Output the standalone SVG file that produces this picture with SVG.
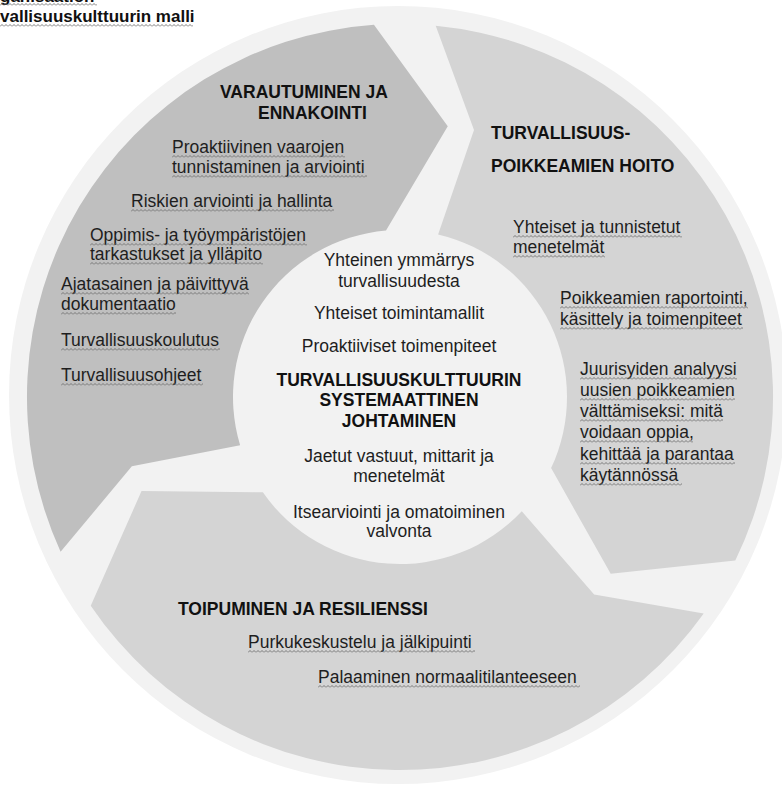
<svg xmlns="http://www.w3.org/2000/svg" width="782" height="786" viewBox="0 0 782 786">
<style>
.t{font-family:"Liberation Sans",Arial,sans-serif;font-size:17.5px;fill:#1e1e1e}
.h{font-family:"Liberation Sans",Arial,sans-serif;font-size:17.5px;font-weight:bold;fill:#111}
.m{text-anchor:middle}
.ttl{font-family:"Liberation Sans",Arial,sans-serif;font-size:17px;font-weight:bold;fill:#111}
.sq{fill:url(#sq)}
</style>
<defs>
<pattern id="sq" width="4" height="3" patternUnits="userSpaceOnUse"><path d="M0,2.5 L2,0.5 L4,2.5" fill="none" stroke="#6f6f6f" stroke-width="0.9"/></pattern>
<path id="seg" d="M35.7,-371.3 A373,373 0 0 1 335.3,163.5 L210.7,176.8 L151.1,71.1 A167,167 0 0 0 38.1,-162.6 L74,-266.9 Z"/>
</defs>
<rect width="782" height="786" fill="#fff"/>
<g id="title">
<text class="ttl" x="0" y="2">ganisaation</text>
<rect class="sq" transform="translate(0,3)" width="97" height="3"/>
<text class="ttl" x="0" y="22">vallisuuskulttuurin malli</text>
<rect class="sq" transform="translate(0,24)" width="193" height="3"/>
</g>
<g id="ring">
<circle cx="398" cy="395" r="389" fill="#f2f2f2"/>
</g>
<g id="connectors"/>
<g id="node-varautuminen">
<use href="#seg" transform="translate(400,397) rotate(240)" fill="#bfbfbf"/>
<text class="h" x="220" y="98">VARAUTUMINEN JA</text>
<text class="h" x="258" y="119">ENNAKOINTI</text>
<text class="t" x="172" y="153">Proaktiivinen vaarojen</text>
<text class="t" x="172" y="173">tunnistaminen ja arviointi</text>
<text class="t" x="131" y="207">Riskien arviointi ja hallinta</text>
<text class="t" x="90" y="241">Oppimis- ja työympäristöjen</text>
<text class="t" x="90" y="260">tarkastukset ja ylläpito</text>
<text class="t" x="61" y="290">Ajatasainen ja päivittyvä</text>
<text class="t" x="61" y="310">dokumentaatio</text>
<text class="t" x="61" y="346">Turvallisuuskoulutus</text>
<text class="t" x="61" y="381">Turvallisuusohjeet</text>
<rect class="sq" transform="translate(172,155)" width="173" height="3"/>
<rect class="sq" transform="translate(172,175)" width="195" height="3"/>
<rect class="sq" transform="translate(131,209)" width="203" height="3"/>
<rect class="sq" transform="translate(90,243)" width="217" height="3"/>
<rect class="sq" transform="translate(90,262)" width="173" height="3"/>
<rect class="sq" transform="translate(61,292)" width="188" height="3"/>
<rect class="sq" transform="translate(61,312)" width="115" height="3"/>
<rect class="sq" transform="translate(61,348)" width="159" height="3"/>
<rect class="sq" transform="translate(61,383)" width="142" height="3"/>
</g>
<g id="node-poikkeamat">
<use href="#seg" transform="translate(400,397)" fill="#d4d4d4"/>
<text class="h" x="491" y="139">TURVALLISUUS-</text>
<text class="h" x="491" y="172">POIKKEAMIEN HOITO</text>
<text class="t" x="513" y="233">Yhteiset ja tunnistetut</text>
<text class="t" x="513" y="253">menetelmät</text>
<text class="t" x="560" y="304">Poikkeamien raportointi,</text>
<text class="t" x="560" y="325">käsittely ja toimenpiteet</text>
<text class="t" x="580" y="375">Juurisyiden analyysi</text>
<text class="t" x="580" y="396">uusien poikkeamien</text>
<text class="t" x="580" y="417">välttämiseksi: mitä</text>
<text class="t" x="580" y="438">voidaan oppia,</text>
<text class="t" x="580" y="460">kehittää ja parantaa</text>
<text class="t" x="580" y="481">käytännössä</text>
<rect class="sq" transform="translate(513,235)" width="169" height="3"/>
<rect class="sq" transform="translate(513,255)" width="92" height="3"/>
<rect class="sq" transform="translate(560,306)" width="188" height="3"/>
<rect class="sq" transform="translate(560,327)" width="183" height="3"/>
<rect class="sq" transform="translate(580,377)" width="157" height="3"/>
<rect class="sq" transform="translate(580,398)" width="155" height="3"/>
<rect class="sq" transform="translate(580,419)" width="143" height="3"/>
<rect class="sq" transform="translate(580,440)" width="113" height="3"/>
<rect class="sq" transform="translate(580,462)" width="155" height="3"/>
<rect class="sq" transform="translate(580,483)" width="102" height="3"/>
</g>
<g id="node-toipuminen">
<use href="#seg" transform="translate(400,397) rotate(120)" fill="#d4d4d4"/>
<text class="h" x="178" y="615">TOIPUMINEN JA RESILIENSSI</text>
<text class="t" x="248" y="648">Purkukeskustelu ja jälkipuinti</text>
<text class="t" x="318" y="683">Palaaminen normaalitilanteeseen</text>
<rect class="sq" transform="translate(248,650)" width="227" height="3"/>
<rect class="sq" transform="translate(318,685)" width="262" height="3"/>
</g>
<g id="node-center">
<text class="t m" x="399" y="266">Yhteinen ymmärrys</text>
<text class="t m" x="399" y="287">turvallisuudesta</text>
<text class="t m" x="399" y="319">Yhteiset toimintamallit</text>
<text class="t m" x="399" y="352">Proaktiiviset toimenpiteet</text>
<text class="h m" x="399" y="386">TURVALLISUUSKULTTUURIN</text>
<text class="h m" x="399" y="406">SYSTEMAATTINEN</text>
<text class="h m" x="399" y="427">JOHTAMINEN</text>
<text class="t m" x="399" y="462">Jaetut vastuut, mittarit ja</text>
<text class="t m" x="399" y="482">menetelmät</text>
<text class="t m" x="399" y="518">Itsearviointi ja omatoiminen</text>
<text class="t m" x="399" y="537">valvonta</text>
</g>
</svg>
